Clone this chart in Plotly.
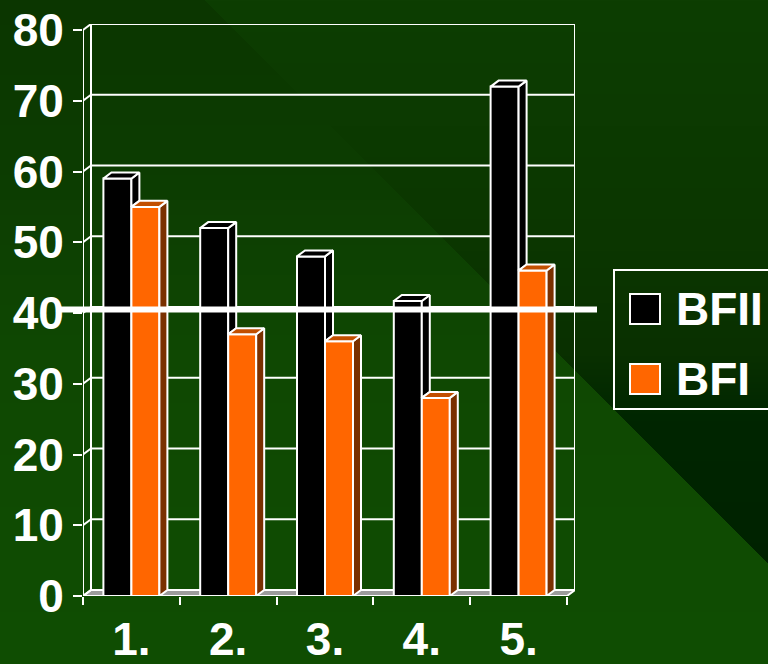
import base64
import struct
import zlib

import numpy as np
import plotly.graph_objects as go

# ---------------- data ----------------
CATEGORIES = ["1.", "2.", "3.", "4.", "5."]
SERIES_NAMES = ["BFII", "BFI"]
BFII = [59, 52, 48, 41.7, 72]
BFI = [55, 37, 36, 28, 46]
Y_TICKS = [0, 10, 20, 30, 40, 50, 60, 70, 80]
THRESHOLD = 40

# ---------------- layout constants ----------------
W, H = 768, 664
ML, MR, MT, MB = 83, 193, 24, 68
PW, PH = W - ML - MR, H - MT - MB
N = len(CATEGORIES)
PX_PER_X = (PW - 8) / N          # front axis spans N categories
DX = 8 / PX_PER_X                # depth in x units
YMAX = Y_TICKS[-1]
DY = 0.85                        # depth in y units
BW = 28 / PX_PER_X               # single bar width
X0, X1 = 0.5, N + 0.5

BLACK = "#000000"
ORANGE = "#ff6600"
ORANGE_TOP = "#c24f00"
ORANGE_SIDE = "#7a3000"
WHITE = "#ffffff"
FONT = "Arial, 'Liberation Sans', sans-serif"
LW = 2


# ---------------- background (gradient picture) ----------------
def png_uri(arr):
    h, w, _ = arr.shape
    raw = b"".join(b"\x00" + arr[r].tobytes() for r in range(h))

    def chunk(tag, data):
        c = struct.pack(">I", len(data)) + tag + data
        return c + struct.pack(">I", zlib.crc32(tag + data) & 0xFFFFFFFF)

    png = b"\x89PNG\r\n\x1a\n"
    png += chunk(b"IHDR", struct.pack(">IIBBBBB", w, h, 8, 2, 0, 0, 0))
    png += chunk(b"IDAT", zlib.compress(raw, 9))
    png += chunk(b"IEND", b"")
    return "data:image/png;base64," + base64.b64encode(png).decode()


ys = np.arange(H)
left_stops_y = [0, 200, 350, 664]
left_cols = [(11, 54, 0), (13, 62, 2), (15, 72, 2), (15, 78, 2)]
right_stops_y = [0, 250, 355, 420, 664]
right_cols = [(13, 62, 2), (11, 54, 0), (9, 48, 0), (0, 38, 0), (0, 32, 0)]
lc = np.stack([np.interp(ys, left_stops_y, [c[k] for c in left_cols]) for k in range(3)], axis=1)
rc = np.stack([np.interp(ys, right_stops_y, [c[k] for c in right_cols]) for k in range(3)], axis=1)
XX, YY = np.meshgrid(np.arange(W), ys)
mask = (XX - YY) > 204
img = np.where(mask[..., None], rc[:, None, :], lc[:, None, :]).astype(np.uint8)
bg_uri = png_uri(img)

fig = go.Figure()

# ---------------- front faces (bars) ----------------
xs = list(range(1, N + 1))
fig.add_trace(go.Bar(x=xs, y=BFII, width=BW, offset=-BW, name=SERIES_NAMES[0],
                     marker=dict(color=BLACK, line=dict(color=WHITE, width=LW)),
                     showlegend=False, hoverinfo="skip"))
fig.add_trace(go.Bar(x=xs, y=BFI, width=BW, offset=0, name=SERIES_NAMES[1],
                     marker=dict(color=ORANGE, line=dict(color=WHITE, width=LW)),
                     showlegend=False, hoverinfo="skip"))


def faces(values, left_off, hide_by=None):
    tx, ty, sx, sy = [], [], [], []
    for i, v in enumerate(values):
        xc = i + 1
        xl, xr = xc + left_off, xc + left_off + BW
        tx += [xl, xr, xr + DX, xl + DX, xl, None]
        ty += [v, v, v + DY, v + DY, v, None]
        base = 0 if hide_by is None else max(0, hide_by[i])
        if base < v:
            sx += [xr, xr + DX, xr + DX, xr, xr, None]
            sy += [base, base + DY, v + DY, v, base, None]
    return tx, ty, sx, sy


for vals, off, hide, top_c, side_c in [
    (BFII, -BW, BFI, BLACK, BLACK),
    (BFI, 0, None, ORANGE_TOP, ORANGE_SIDE),
]:
    tx, ty, sx, sy = faces(vals, off, hide)
    fig.add_trace(go.Scatter(x=sx, y=sy, mode="lines", fill="toself", fillcolor=side_c,
                             line=dict(color=WHITE, width=LW), showlegend=False, hoverinfo="skip"))
    fig.add_trace(go.Scatter(x=tx, y=ty, mode="lines", fill="toself", fillcolor=top_c,
                             line=dict(color=WHITE, width=LW), showlegend=False, hoverinfo="skip"))

# ---------------- walls, floor, grid ----------------
shapes = []
line_w = dict(color=WHITE, width=LW)
# floor
shapes.append(dict(type="path", xref="x", yref="y", layer="below",
                   path=f"M{X0},0 L{X1},0 L{X1 + DX},{DY} L{X0 + DX},{DY} Z",
                   fillcolor="#9c9c9c", line=line_w))
for t in Y_TICKS:
    shapes.append(dict(type="line", xref="x", yref="y", layer="below",
                       x0=X0 + DX, x1=X1 + DX, y0=t + DY, y1=t + DY, line=line_w))
    shapes.append(dict(type="line", xref="x", yref="y", layer="below",
                       x0=X0, x1=X0 + DX, y0=t, y1=t + DY, line=line_w))
# back wall verticals
for xv in (X0 + DX, X1 + DX):
    shapes.append(dict(type="line", xref="x", yref="y", layer="below",
                       x0=xv, x1=xv, y0=DY, y1=YMAX + DY, line=line_w))
# front axis lines
shapes.append(dict(type="line", xref="x", yref="y", layer="below",
                   x0=X0, x1=X0, y0=0, y1=YMAX, line=line_w))
shapes.append(dict(type="line", xref="x", yref="y", layer="above",
                   x0=X0, x1=X1, y0=0, y1=0, line=line_w))

# threshold line
shapes.append(dict(type="line", xref="paper", yref="y", layer="above",
                   x0=(60 - ML) / PW, x1=(597 - ML) / PW,
                   y0=THRESHOLD + DY * 0.6, y1=THRESHOLD + DY * 0.6,
                   line=dict(color=WHITE, width=6)))

# ---------------- legend (drawn) ----------------
def px_x(p):
    return (p - ML) / PW


def px_y(p):
    return 1 - (p - MT) / PH


shapes.append(dict(type="rect", xref="paper", yref="paper", layer="above",
                   x0=px_x(614), x1=px_x(790), y0=px_y(270), y1=px_y(409),
                   line=dict(color=WHITE, width=LW), fillcolor="rgba(0,0,0,0)"))
annotations = []
for name, col, cy in [(SERIES_NAMES[0], BLACK, 309), (SERIES_NAMES[1], ORANGE, 379)]:
    shapes.append(dict(type="rect", xref="paper", yref="paper", layer="above",
                       x0=px_x(630), x1=px_x(660), y0=px_y(cy - 15), y1=px_y(cy + 15),
                       fillcolor=col, line=dict(color=WHITE, width=LW)))
    annotations.append(dict(xref="paper", yref="paper", x=px_x(674), y=px_y(cy),
                            xanchor="left", yanchor="middle", showarrow=False, text=name,
                            font=dict(family=FONT, size=46, color=WHITE, weight="bold")))

fig.update_layout(
    width=W, height=H,
    margin=dict(l=ML, r=MR, t=MT, b=MB, pad=0, autoexpand=False),
    paper_bgcolor="#0f4a02", plot_bgcolor="rgba(0,0,0,0)",
    barmode="overlay",
    showlegend=False,
    shapes=shapes,
    annotations=annotations,
    images=[dict(source=bg_uri, xref="paper", yref="paper",
                 x=-ML / PW, y=1 + MT / PH, sizex=W / PW, sizey=H / PH,
                 xanchor="left", yanchor="top", sizing="stretch", layer="below")],
    font=dict(family=FONT, color=WHITE),
    xaxis=dict(range=[X0, X1 + DX], tickmode="array", tickvals=xs, ticktext=CATEGORIES,
               showgrid=False, zeroline=False, showline=False, ticks="", automargin=False,
               tickfont=dict(family=FONT, size=46, color=WHITE, weight="bold"),
               ticklabelstandoff=12,
               minor=dict(tickmode="array", tickvals=[x + 0.5 for x in range(N + 1)],
                          ticks="outside", ticklen=8, tickwidth=LW, tickcolor=WHITE,
                          showgrid=False)),
    yaxis=dict(range=[0, YMAX + DY], tickmode="array", tickvals=Y_TICKS, automargin=False,
               showgrid=False, zeroline=False, showline=False,
               ticks="outside", ticklen=9, tickwidth=LW, tickcolor=WHITE,
               tickfont=dict(family=FONT, size=46, color=WHITE, weight="bold")),
)

fig.write_html("out.html")
